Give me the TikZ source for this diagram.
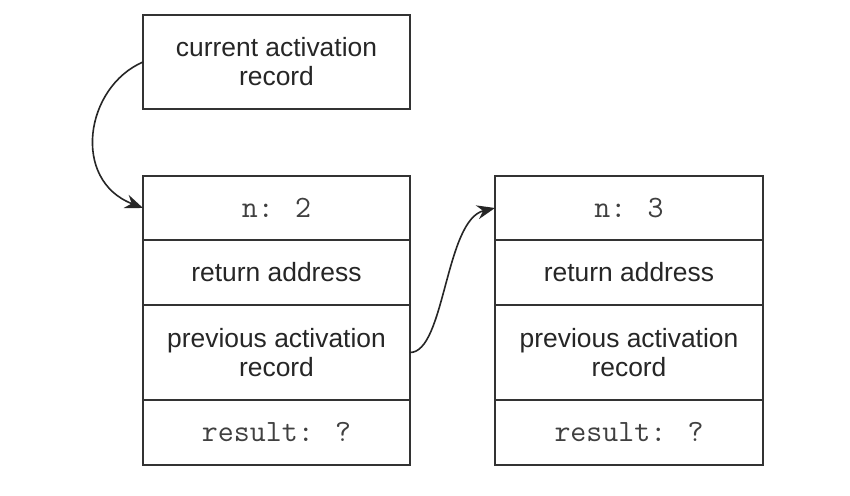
\documentclass[tikz,border=0pt]{standalone}
\usepackage{fontspec}
\setmainfont{Liberation Sans}
\usetikzlibrary{arrows.meta}
\tikzset{
  cell/.style={draw=black!80, line width=1pt, rectangle, inner sep=0pt, outer sep=0pt,
    minimum width=133.5pt, align=center, text=black!85,
    font=\fontsize{13.2}{14.5}\selectfont},
  mono/.style={font=\fontsize{15.5}{17}\selectfont\ttfamily, text=black!75},
  link/.style={draw=black!85, line width=0.8pt, -{Stealth[length=9pt,width=7pt]}}
}
\begin{document}
\begin{tikzpicture}[x=0.5pt,y=-0.5pt]
  \useasboundingbox[fill=white] (0,0) rectangle (850,496);
  % current record
  \node[cell, minimum height=47pt] (cur) at (276.5,62) {current activation\\record};
  % caller frame
  \node[cell, mono, minimum height=32pt] (n2) at (276.5,208) {n: 2};
  \node[cell, minimum height=32.5pt] (ret2) at (276.5,272.5) {return address};
  \node[cell, minimum height=47.5pt] (prev2) at (276.5,352.5) {previous activation\\record};
  \node[cell, mono, minimum height=32.5pt] (res2) at (276.5,432.5) {result: ?};
  % older frame
  \node[cell, mono, minimum width=134pt, minimum height=32pt] (n3) at (629,208) {n: 3};
  \node[cell, minimum width=134pt, minimum height=32.5pt] (ret3) at (629,272.5) {return address};
  \node[cell, minimum width=134pt, minimum height=47.5pt] (prev3) at (629,352.5) {previous activation\\record};
  \node[cell, mono, minimum width=134pt, minimum height=32.5pt] (res3) at (629,432.5) {result: ?};
  % pointers
  \draw[link] (cur.west) .. controls +(-58,25) and +(-72,-28) .. (n2.west);
  \draw[link] (prev2.east) .. controls +(35,0) and +(-50,12) .. (n3.west);
\end{tikzpicture}
\end{document}
